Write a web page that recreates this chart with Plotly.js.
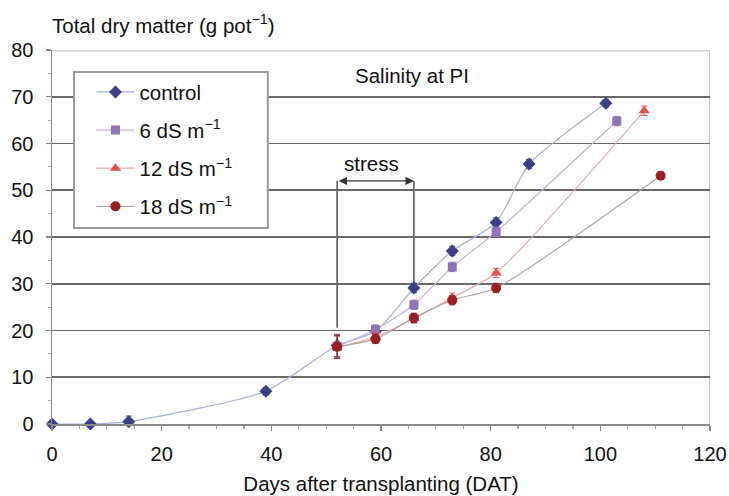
<!DOCTYPE html>
<html>
<head>
<meta charset="utf-8">
<script src="https://cdn.plot.ly/plotly-3.0.1.min.js"></script>
<style>html,body{margin:0;padding:0;background:#fff;}#chart{width:729px;height:496px;}</style>
</head>
<body>
<div id="chart"></div>
<script>
// ---- data ----
const seriesNames = ['control', '6 dS m<sup>\u22121</sup>', '12 dS m<sup>\u22121</sup>', '18 dS m<sup>\u22121</sup>'];

const controlDays = [0, 7, 14, 39, 52, 59, 66, 73, 81, 87, 101];
const controlTDM  = [0, 0, 0.5, 7, 16.8, 19.8, 29.1, 37.0, 43.1, 55.6, 68.6];
const controlErr  = [0, 0, 1.2, 0.8, 2.4, 1.0, 1.0, 1.0, 1.0, 1.0, 0.8];

const ds6Days = [52, 59, 66, 73, 81, 103];
const ds6TDM  = [16.6, 20.2, 25.5, 33.6, 41.1, 64.8];
const ds6Err  = [2.4, 1.0, 1.0, 1.0, 1.0, 1.0];

const ds12Days = [52, 59, 66, 73, 81, 108];
const ds12TDM  = [16.4, 18.6, 22.6, 27.0, 32.3, 67.0];
const ds12Err  = [2.4, 1.0, 1.0, 1.0, 1.0, 1.0];

const ds18Days = [52, 59, 66, 73, 81, 111];
const ds18TDM  = [16.5, 18.2, 22.7, 26.5, 29.1, 53.1];
const ds18Err  = [2.4, 1.0, 1.0, 1.0, 1.0, 0.8];

const xTicks = [0, 20, 40, 60, 80, 100, 120];
const yTicks = [0, 10, 20, 30, 40, 50, 60, 70, 80];

// stress period
const stressStart = 52, stressEnd = 66, stressLevel = 52;

const FONT = 'Liberation Sans, Arial, sans-serif';
const FS = 20.5;   // titles / legend / annotations
const TFS = 20;    // tick labels

function tr(name, x, y, err, sym, mcol, lcol, size, grp) {
  return {
    type: 'scatter', mode: 'lines+markers', name: name, x: x, y: y,
    legendgroup: grp,
    line: {color: lcol, width: 1.2, shape: 'spline', smoothing: 0.6},
    marker: {symbol: sym, color: mcol, size: size, line: {width: 0}},
    error_y: {type: 'data', array: err, visible: true, color: mcol, thickness: 1, width: 3},
    cliponaxis: false
  };
}

const traces = [
  tr(seriesNames[0], controlDays, controlTDM, controlErr, 'diamond', '#3c3f86', '#a9b0dc', 10, 'a'),
  tr(seriesNames[1], ds6Days, ds6TDM, ds6Err, 'square', '#8f74b6', '#c8b2dc', 9, 'b'),
  tr(seriesNames[2], ds12Days, ds12TDM, ds12Err, 'triangle-up', '#e5504c', '#f2a9ae', 10, 'c'),
  tr(seriesNames[3], ds18Days, ds18TDM, ds18Err, 'circle', '#9a1f22', '#b0a4a8', 10, 'd')
];

const layout = {
  width: 729, height: 496,
  margin: {l: 52, r: 19, t: 50, b: 72},
  paper_bgcolor: '#ffffff', plot_bgcolor: '#ffffff',
  font: {family: FONT, size: FS, color: '#111'},
  showlegend: true,
  legend: {
    x: 0.06, xanchor: 'left', y: 0.941, yanchor: 'top',
    bgcolor: 'rgba(0,0,0,0)', borderwidth: 0,
    font: {family: FONT, size: FS, color: '#111'},
    tracegroupgap: 8.5, itemwidth: 38
  },
  xaxis: {
    range: [0, 120], tickvals: xTicks, ticktext: xTicks.map(String),
    showgrid: false, zeroline: false,
    showline: true, linecolor: '#8a8a8a', linewidth: 1.5,
    ticks: 'outside', ticklen: 5, tickcolor: '#8a8a8a', tickwidth: 1.2,
    minor: {dtick: 5, ticks: 'outside', ticklen: 3, tickcolor: '#aaaaaa'},
    ticklabelstandoff: 6,
    tickfont: {family: FONT, size: TFS, color: '#111'},
    title: {text: 'Days after transplanting (DAT)', font: {family: FONT, size: FS, color: '#111'}, standoff: 13}
  },
  yaxis: {
    range: [0, 80], tickvals: yTicks, ticktext: yTicks.map(String),
    showgrid: true, gridcolor: '#6a6a6a', gridwidth: 1.6,
    zeroline: false,
    showline: true, linecolor: '#8a8a8a', linewidth: 1.5,
    ticks: 'outside', ticklen: 5, tickcolor: '#8a8a8a', tickwidth: 1.2,
    minor: {dtick: 5, ticks: 'outside', ticklen: 3, tickcolor: '#aaaaaa'},
    ticklabelstandoff: 8,
    tickfont: {family: FONT, size: TFS, color: '#111'}
  },
  shapes: [
    // top border line (light)
    {type: 'line', xref: 'paper', yref: 'y', x0: 0, x1: 1, y0: 80, y1: 80, line: {color: '#cfcfcf', width: 3}, layer: 'above'},
    // right border line
    {type: 'line', xref: 'x', yref: 'y', x0: 120, x1: 120, y0: 0, y1: 80, line: {color: '#b5b5b5', width: 1.5}, layer: 'below'},
    // stress vertical lines
    {type: 'line', xref: 'x', yref: 'y', x0: stressStart, x1: stressStart, y0: 20.6, y1: stressLevel, line: {color: '#444', width: 1.4}, layer: 'below'},
    {type: 'line', xref: 'x', yref: 'y', x0: stressEnd, x1: stressEnd, y0: 30.2, y1: stressLevel, line: {color: '#444', width: 1.4}, layer: 'below'},
    // legend box
    {type: 'rect', xref: 'paper', yref: 'paper', x0: 0.0334, x1: 0.328, y0: 0.524, y1: 0.941,
     fillcolor: '#ffffff', line: {color: '#9a9a9a', width: 2}, layer: 'above'}
  ],
  annotations: [
    {xref: 'paper', yref: 'paper', x: -0.003, y: 1.07, xanchor: 'left', yanchor: 'middle', showarrow: false,
     text: 'Total dry matter (g pot<sup>\u22121</sup>)', font: {family: FONT, size: FS, color: '#111'}},
    {xref: 'x', yref: 'y', x: 65.6, y: 74.6, showarrow: false, text: 'Salinity at PI',
     font: {family: FONT, size: FS, color: '#111'}},
    {xref: 'x', yref: 'y', x: 58.3, y: 55.8, showarrow: false, text: 'stress',
     font: {family: FONT, size: FS, color: '#111'}},
    {xref: 'x', yref: 'y', axref: 'x', ayref: 'y', x: stressEnd, y: stressLevel, ax: stressStart, ay: stressLevel,
     text: '', showarrow: true, arrowhead: 2, arrowside: 'end+start', arrowsize: 1.2, arrowwidth: 1.4, arrowcolor: '#333',
     standoff: 0, startstandoff: 0}
  ]
};

Plotly.newPlot('chart', traces, layout, {displayModeBar: false, staticPlot: true});
</script>
</body>
</html>
